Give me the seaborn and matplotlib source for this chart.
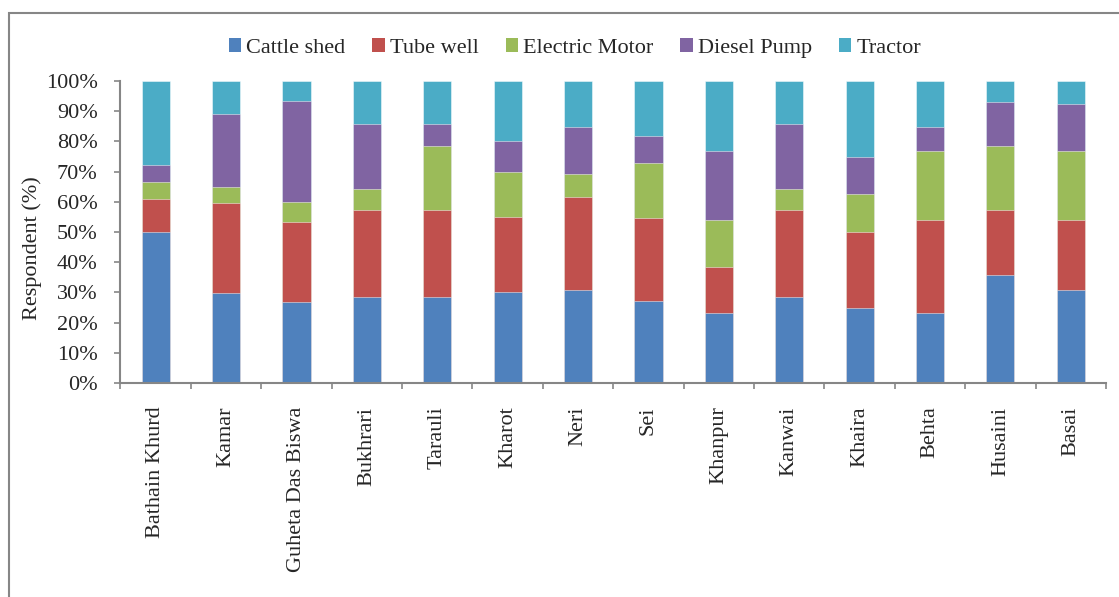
import numpy as np
import pandas as pd
import matplotlib
matplotlib.use("Agg")
import matplotlib.pyplot as plt
from matplotlib.patches import Patch, Rectangle
from matplotlib.ticker import FixedLocator
import seaborn as sns

villages = ["Bathain Khurd", "Kamar", "Guheta Das Biswa", "Bukhrari", "Tarauli",
            "Kharot", "Neri", "Sei", "Khanpur", "Kanwai", "Khaira", "Behta",
            "Husaini", "Basai"]

cattle_shed = [50.0, 29.7, 26.7, 28.6, 28.6, 30.0, 30.8, 27.3, 23.1, 28.6, 25.0, 23.1, 35.7, 30.8]
tube_well = [11.1, 29.7, 26.7, 28.6, 28.6, 25.0, 30.8, 27.3, 15.4, 28.6, 25.0, 30.8, 21.4, 23.1]
electric_motor = [5.6, 5.4, 6.7, 7.1, 21.4, 15.0, 7.7, 18.2, 15.4, 7.1, 12.5, 23.1, 21.4, 23.1]
diesel_pump = [5.6, 24.3, 33.3, 21.4, 7.1, 10.0, 15.4, 9.1, 23.1, 21.4, 12.5, 7.7, 14.3, 15.4]
tractor = [27.8, 10.8, 6.7, 14.3, 14.3, 20.0, 15.4, 18.2, 23.1, 14.3, 25.0, 15.4, 7.1, 7.7]

series_names = ["Cattle shed", "Tube well", "Electric Motor", "Diesel Pump", "Tractor"]
colors = ["#4F81BD", "#C0504D", "#9BBB59", "#8064A2", "#4BACC6"]

sns.set_theme(style="white")
plt.rcParams["font.family"] = ["Liberation Serif", "DejaVu Serif"]

df = pd.DataFrame({"village": villages,
                   "Cattle shed": cattle_shed,
                   "Tube well": tube_well,
                   "Electric Motor": electric_motor,
                   "Diesel Pump": diesel_pump,
                   "Tractor": tractor})
vals = df[series_names].to_numpy(dtype=float)
vals = vals / vals.sum(axis=1, keepdims=True) * 100.0
cum = np.cumsum(vals, axis=1)

fig = plt.figure(figsize=(11.19, 5.97), dpi=100)
ax = fig.add_axes([120.5 / 1119, 1 - 383 / 597, (1106 - 120.5) / 1119, (383 - 81) / 597])

# 100% stacked bars: draw cumulative totals from the top series down
for i in range(len(series_names) - 1, -1, -1):
    sns.barplot(x=df["village"], y=cum[:, i], color=colors[i], width=0.4,
                edgecolor=(1, 1, 1, 0.55), linewidth=0.6, saturation=1,
                ax=ax, zorder=2)

gray = "#868686"
ax.set_ylim(0, 100)
ax.set_xlim(-0.5, len(villages) - 0.5)
ax.set_yticks(np.arange(0, 101, 10))
ax.set_yticklabels([f"{v}%" for v in range(0, 101, 10)], fontsize=16)
ax.set_xticks(range(len(villages)))
ax.set_xticklabels(villages, rotation=90, fontsize=16, va="top", ha="center")
ax.xaxis.set_minor_locator(FixedLocator(np.arange(-0.5, len(villages), 1.0)))
ax.tick_params(axis="x", which="major", length=0, pad=17)
ax.tick_params(axis="x", which="minor", length=4.5, width=1.2, color=gray, direction="out", bottom=True)
ax.tick_params(axis="y", which="major", length=4.5, width=1.2, color=gray, direction="out", left=True, pad=12)
ax.set_xlabel("")
ax.set_ylabel("")
for s in ["top", "right"]:
    ax.spines[s].set_visible(False)
for s in ["left", "bottom"]:
    ax.spines[s].set_color(gray)
    ax.spines[s].set_linewidth(1.5)
ax.grid(False)

fig.text(32 / 1119, 1 - 248 / 597, "Respondent (%)", rotation=90, fontsize=16,
         ha="center", va="center")

handles = [Patch(facecolor=c, edgecolor="none") for c in colors]
fig.legend(handles, series_names, loc="center", bbox_to_anchor=(575 / 1119, 1 - 48 / 597),
           ncol=5, frameon=False, fontsize=16, handlelength=0.55, handleheight=0.55,
           handletextpad=0.25, columnspacing=1.2)

# outer chart frame
fig.patches.append(Rectangle((8.5 / 1119, -0.05), 1.2, 1 - 12.5 / 597 + 0.05,
                             transform=fig.transFigure, fill=False,
                             edgecolor=gray, linewidth=1.5))

fig.savefig("out.png", dpi=100)
